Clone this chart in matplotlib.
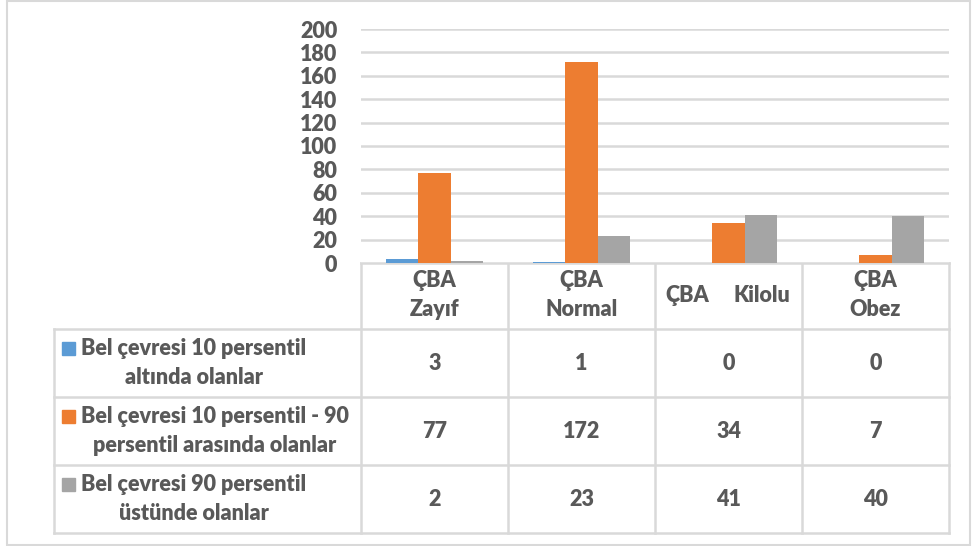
import matplotlib
matplotlib.use('Agg')
import matplotlib.pyplot as plt
import numpy as np
from matplotlib.patches import Rectangle

plt.rcParams['font.family'] = ['Lato', 'DejaVu Sans']
plt.rcParams['font.weight'] = 'heavy'

# data
categories = ['ÇBA\nZayıf', 'ÇBA\nNormal', 'ÇBA    Kilolu', 'ÇBA\nObez']
series_names = ['Bel çevresi 10 persentil\naltında olanlar',
                'Bel çevresi 10 persentil - 90\npersentil arasında olanlar',
                'Bel çevresi 90 persentil\nüstünde olanlar']
below_10 = [3, 1, 0, 0]
between_10_90 = [77, 172, 34, 7]
above_90 = [2, 23, 41, 40]
yticks = [0, 20, 40, 60, 80, 100, 120, 140, 160, 180, 200]

colors = ['#5B9BD5', '#ED7D31', '#A5A5A5']
text_col = '#595959'
grid_col = '#D9D9D9'

W, H = 977, 546
fig = plt.figure(figsize=(W / 100, H / 100), dpi=100)

# pixel layout
x_left, x_right = 361, 949
y_top, y_base = 29, 263
tab_left = 54
row_edges = [263, 329, 397, 465, 533]
fs = 15.5
fw = 'heavy'

ax = fig.add_axes([x_left / W, 1 - y_base / H, (x_right - x_left) / W, (y_base - y_top) / H])
x = np.arange(len(categories))
bw = 0.222
all_series = [below_10, between_10_90, above_90]
for i, vals in enumerate(all_series):
    ax.bar(x + (i - 1) * bw, vals, width=bw, color=colors[i], zorder=3)
ax.set_xlim(-0.5, len(categories) - 0.5)
ax.set_ylim(0, 200)
ax.set_yticks(yticks)
ax.set_xticks([])
ax.yaxis.grid(True, color=grid_col, linewidth=1.8, zorder=0)
for s in ['left', 'right', 'top', 'bottom']:
    ax.spines[s].set_visible(False)
# pad in points (24 px at 100 dpi)
ax.tick_params(axis='y', length=0, pad=17, labelsize=fs, labelcolor=text_col)
for lbl in ax.get_yticklabels():
    lbl.set_fontweight(fw)

# overlay for data table, in pixel coords
ov = fig.add_axes([0, 0, 1, 1], zorder=-1)
ov.set_xlim(0, W)
ov.set_ylim(H, 0)
ov.axis('off')

# outer frame
ov.add_patch(Rectangle((7, 1), 963, 544, fill=False, edgecolor=grid_col, linewidth=1.5))

col_edges = np.linspace(x_left, x_right, len(categories) + 1)
lw = 1.8
for xe in col_edges:
    ov.plot([xe, xe], [row_edges[0], row_edges[-1]], color=grid_col, lw=lw)
ov.plot([tab_left, tab_left], [row_edges[1], row_edges[-1]], color=grid_col, lw=lw)
ov.plot([x_left, x_right], [row_edges[0], row_edges[0]], color=grid_col, lw=lw)
for ye in row_edges[1:]:
    ov.plot([tab_left, x_right], [ye, ye], color=grid_col, lw=lw)

centers = (col_edges[:-1] + col_edges[1:]) / 2
hdr_y = (row_edges[0] + row_edges[1]) / 2 - 1
for c, cat in zip(centers, categories):
    if '\n' in cat:
        ov.text(c, hdr_y, cat, ha='center', va='center', fontsize=fs, color=text_col,
                fontweight=fw, linespacing=1.5)
    else:
        a, b = cat.split()
        ov.text(col_edges[2] + 10, hdr_y, a, ha='left', va='center', fontsize=fs,
                color=text_col, fontweight=fw)
        ov.text(col_edges[3] - 12, hdr_y, b, ha='right', va='center', fontsize=fs,
                color=text_col, fontweight=fw)

for r, (name, vals) in enumerate(zip(series_names, all_series)):
    yc = (row_edges[r + 1] + row_edges[r + 2]) / 2
    ov.add_patch(Rectangle((62, yc - 21), 13, 13, color=colors[r]))
    ov.text(81, yc, name, ha='left', va='center', fontsize=fs, color=text_col,
            fontweight=fw, multialignment='center', linespacing=1.5)
    for c, v in zip(centers, vals):
        ov.text(c, yc, str(v), ha='center', va='center', fontsize=fs, color=text_col,
                fontweight=fw)

fig.savefig('out.png', dpi=100, facecolor='white')
